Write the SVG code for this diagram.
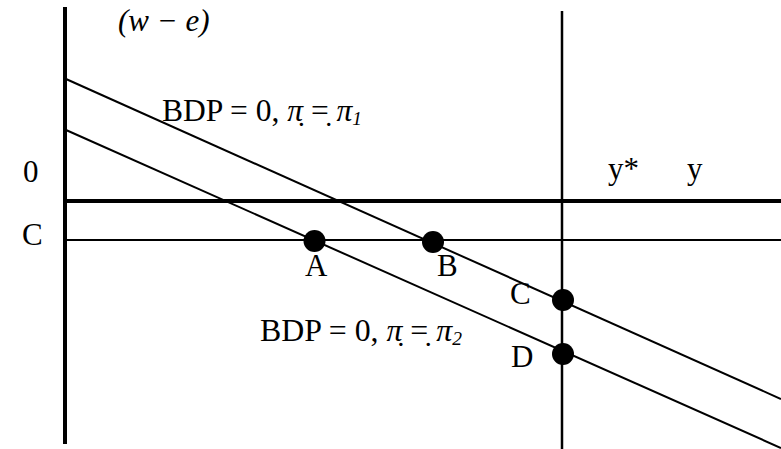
<svg xmlns="http://www.w3.org/2000/svg" width="781" height="449" viewBox="0 0 781 449">
<style>
text{font-family:"Liberation Serif","Times New Roman",serif;font-size:31px;fill:#000}
.it{font-style:italic}
.ln{stroke:#000;fill:none}
.dot{fill:#000}
</style>
<rect width="781" height="449" fill="#fff"/>
<g id="connectors">
<line class="ln" x1="65" y1="7" x2="65" y2="444" stroke-width="4"/>
<line class="ln" x1="562" y1="11" x2="562" y2="449" stroke-width="2.5"/>
<line class="ln" x1="65" y1="201" x2="781" y2="201" stroke-width="4"/>
<line class="ln" x1="65" y1="240" x2="781" y2="240" stroke-width="2"/>
<line class="ln" x1="66" y1="79" x2="781" y2="399" stroke-width="2"/>
<line class="ln" x1="66" y1="130" x2="781" y2="448" stroke-width="2"/>
</g>
<g id="axis-labels">
<text class="it" x="118" y="31" font-size="29">(w − e)</text>
<text x="23" y="182">0</text>
<text x="22" y="245">C</text>
<text x="608" y="179">y*</text>
<text x="687" y="179">y</text>
</g>
<g id="curve1-label">
<text x="162" y="121" textLength="200" lengthAdjust="spacingAndGlyphs">BDP = 0, <tspan class="it">π̣</tspan> =̣ <tspan class="it">π</tspan><tspan class="it" font-size="19" dy="4">1</tspan></text>
</g>
<g id="curve2-label">
<text x="260" y="341" textLength="202" lengthAdjust="spacingAndGlyphs">BDP = 0, <tspan class="it">π̣</tspan> =̣ <tspan class="it">π</tspan><tspan class="it" font-size="19" dy="4">2</tspan></text>
</g>
<g id="A"><circle class="dot" cx="314.5" cy="241" r="11"/><text x="305" y="276">A</text></g>
<g id="B"><circle class="dot" cx="433" cy="242" r="11"/><text x="437" y="276">B</text></g>
<g id="C"><circle class="dot" cx="563" cy="300" r="11"/><text x="510" y="304">C</text></g>
<g id="D"><circle class="dot" cx="563" cy="354" r="11"/><text x="511" y="367">D</text></g>
</svg>
